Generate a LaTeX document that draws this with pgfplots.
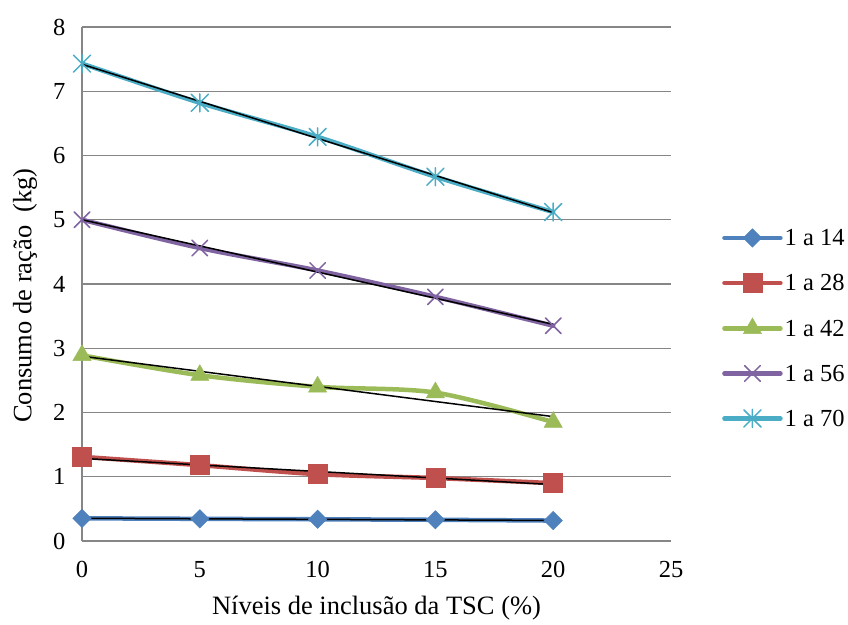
\documentclass[border=0pt]{standalone}
\usepackage{pgfplots}
\pgfplotsset{compat=1.18}
\usepackage{fontspec}
\setmainfont{Liberation Serif}
\definecolor{c1}{HTML}{4F81BD}
\definecolor{c2}{HTML}{C0504D}
\definecolor{c3}{HTML}{9BBB59}
\definecolor{c4}{HTML}{8064A2}
\definecolor{c5}{HTML}{4BACC6}
\definecolor{gridgray}{HTML}{868686}
\pgfdeclareplotmark{xstar}{%
  \pgfpathmoveto{\pgfqpoint{0pt}{-\pgfplotmarksize}}%
  \pgfpathlineto{\pgfqpoint{0pt}{\pgfplotmarksize}}%
  \pgfpathmoveto{\pgfqpoint{-.95\pgfplotmarksize}{-.95\pgfplotmarksize}}%
  \pgfpathlineto{\pgfqpoint{.95\pgfplotmarksize}{.95\pgfplotmarksize}}%
  \pgfpathmoveto{\pgfqpoint{-.95\pgfplotmarksize}{.95\pgfplotmarksize}}%
  \pgfpathlineto{\pgfqpoint{.95\pgfplotmarksize}{-.95\pgfplotmarksize}}%
  \pgfusepathqstroke}
\begin{document}
\begin{tikzpicture}
\path[use as bounding box] (0,0) rectangle (848bp,625bp);
\begin{axis}[
  at={(82bp,84bp)}, anchor=south west, scale only axis,
  width=589bp, height=514bp,
  xmin=0, xmax=25, ymin=0, ymax=8,
  xtick={0,5,10,15,20,25}, ytick={0,1,2,3,4,5,6,7,8},
  axis x line*=bottom, axis y line*=left,
  axis line style={draw=gridgray, line width=1.3bp, -},
  ymajorgrids, grid style={gridgray, line width=1.3bp},
  major tick length=0pt,
  tick label style={font=\fontsize{24.5bp}{28bp}\selectfont},
  /pgf/number format/assume math mode=true,
  yticklabel style={xshift=-13bp},
  xticklabel style={yshift=-17bp},
  xlabel={Níveis de inclusão da TSC (\%)},
  ylabel={Consumo de ração\ \ (kg)},
  label style={font=\fontsize{26.5bp}{30bp}\selectfont},
  xlabel style={at={(axis description cs:0.5,-0.130)}, anchor=center},
  ylabel style={at={(axis description cs:-0.0968,0.4776)}, anchor=center},
  legend style={at={(axis description cs:1.0866,0.414)}, anchor=west, draw=none, fill=none,
    font=\fontsize{24.5bp}{28bp}\selectfont, row sep=25bp, inner sep=0pt,
    nodes={inner sep=2bp, text height=16bp, text depth=0bp}},
  legend cell align=left,
  legend image code/.code={\draw[mark repeat=2,mark phase=2,line cap=round,#1] plot coordinates {(0bp,0bp) (28bp,0bp) (56bp,0bp)};},
  every axis plot/.append style={line width=4.5bp, line cap=round, smooth, tension=0.5},
]
\addplot[c1, mark=square*, mark size=6.5bp, mark options={rotate=45, line width=0.5bp, fill=c1, draw=c1}]
  coordinates {(0,0.353) (5,0.345) (10,0.338) (15,0.330) (20,0.318)};
\addlegendentry{1 a 14}
\addplot[c2, mark=square*, mark size=9.5bp, mark options={line width=0.5bp, fill=c2, draw=c2}]
  coordinates {(0,1.31) (5,1.18) (10,1.04) (15,0.98) (20,0.90)};
\addlegendentry{1 a 28}
\addplot[c3, mark=triangle*, mark size=10.5bp, mark options={line width=0.5bp, fill=c3, draw=c3}]
  coordinates {(0,2.89) (5,2.58) (10,2.40) (15,2.31) (20,1.85)};
\addlegendentry{1 a 42}
\addplot[c4, mark=x, mark size=11bp, mark options={line width=1.5bp, draw=c4}]
  coordinates {(0,5.00) (5,4.56) (10,4.21) (15,3.80) (20,3.35)};
\addlegendentry{1 a 56}
\addplot[c5, mark=xstar, mark size=9bp, mark options={line width=1.5bp, draw=c5}]
  coordinates {(0,7.43) (5,6.82) (10,6.29) (15,5.67) (20,5.12)};
\addlegendentry{1 a 70}
% linear trend lines
\addplot[black, line width=1.5bp, forget plot, no marks, sharp plot] coordinates {(0,0.354) (20,0.320)};
\addplot[black, line width=1.5bp, forget plot, no marks, sharp plot] coordinates {(0,1.286) (20,0.878)};
\addplot[black, line width=1.5bp, forget plot, no marks, sharp plot] coordinates {(0,2.876) (20,1.936)};
\addplot[black, line width=1.5bp, forget plot, no marks, sharp plot] coordinates {(0,5.000) (20,3.372)};
\addplot[black, line width=1.5bp, forget plot, no marks, sharp plot] coordinates {(0,7.420) (20,5.112)};
\end{axis}
\end{tikzpicture}
\end{document}
